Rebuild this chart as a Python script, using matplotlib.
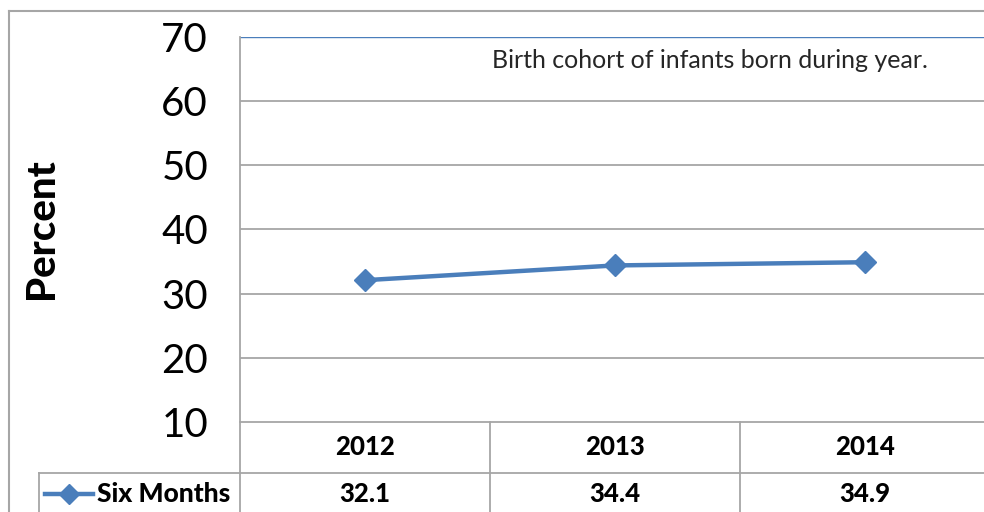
import matplotlib
matplotlib.use("Agg")
import matplotlib.pyplot as plt
from matplotlib.lines import Line2D
import matplotlib.transforms as mtransforms

years = ["2012", "2013", "2014"]
six_months = [32.1, 34.4, 34.9]
series_name = "Six Months"
y_ticks = [10, 20, 30, 40, 50, 60, 70]
note = "Birth cohort of infants born during year."

W, H = 984, 512
BLUE = "#4a7ebb"
GRID = "#a6a6a6"
FONT = "Lato"

fig = plt.figure(figsize=(W / 100, H / 100), dpi=100)

def fx(px):
    return px / W

def fy(py):
    return 1 - py / H

left_px, right_px, top_px, bot_px = 240, 990, 37, 422
ax = fig.add_axes([fx(left_px), fy(bot_px), fx(right_px - left_px), fy(top_px) - fy(bot_px)])
x = list(range(len(years)))
ax.set_xlim(-0.5, len(years) - 0.5)
ax.set_ylim(10, 70)
for s in ax.spines.values():
    s.set_visible(False)
ax.set_xticks([])
ax.set_yticks(y_ticks)
ax.set_yticklabels([str(t) for t in y_ticks], fontsize=29, fontfamily=FONT)
ax.tick_params(axis="y", length=0, pad=23)
for t in y_ticks[1:-1]:
    ax.axhline(t, color=GRID, lw=1.3, zorder=1)
ax.axhline(70, color=BLUE, lw=1.0, zorder=1)

ax.plot(x, six_months, color=BLUE, lw=3.2, marker="D", markersize=11,
        markerfacecolor=BLUE, markeredgecolor=BLUE, zorder=3, solid_capstyle="round")

# Outer chart frame
fig.add_artist(Line2D([fx(9), 1.0], [fy(11), fy(11)], color=GRID, lw=1.5))
fig.add_artist(Line2D([fx(9), fx(9)], [fy(11), 0], color=GRID, lw=1.5))

# Y label
fig.text(fx(41), fy(229), "Percent", rotation=90, ha="center", va="center",
         fontsize=29, fontweight="black", fontfamily=FONT)

# Note
ax.text(fx(710), fy(60), note, transform=fig.transFigure, ha="center", va="center",
        fontsize=18, fontfamily=FONT, color="#262626")

# Data table
row1_px = 473
fig.add_artist(Line2D([fx(left_px), fx(left_px)], [fy(top_px), 0], color=GRID, lw=1.3))
fig.add_artist(Line2D([fx(left_px), 1.0], [fy(bot_px), fy(bot_px)], color=GRID, lw=1.3))
fig.add_artist(Line2D([fx(39), 1.0], [fy(row1_px), fy(row1_px)], color=GRID, lw=1.3))
fig.add_artist(Line2D([fx(39), fx(39)], [fy(row1_px), 0], color=GRID, lw=1.3))
trans = mtransforms.blended_transform_factory(ax.transData, fig.transFigure)
for b in [i + 0.5 for i in range(len(years) - 1)]:
    ax.add_artist(Line2D([b, b], [fy(bot_px), 0], color=GRID, lw=1.3,
                         transform=trans, clip_on=False))
for xi, yr, v in zip(x, years, six_months):
    ax.text(xi, fy(447), yr, transform=trans, ha="center", va="center",
            fontsize=18.5, fontweight="black", fontfamily=FONT, clip_on=False)
    ax.text(xi, fy(494), f"{v:.1f}", transform=trans, ha="center", va="center",
            fontsize=18.5, fontweight="black", fontfamily=FONT, clip_on=False)

# legend key in table
fig.add_artist(Line2D([fx(45), fx(93)], [fy(494), fy(494)], color=BLUE, lw=3.2))
fig.add_artist(Line2D([fx(69)], [fy(494)], color=BLUE, marker="D", markersize=10,
                      markerfacecolor=BLUE, markeredgecolor=BLUE, lw=0))
fig.text(fx(97), fy(494), series_name, ha="left", va="center",
         fontsize=19, fontweight="black", fontfamily=FONT)

fig.savefig("out.png", dpi=100)
